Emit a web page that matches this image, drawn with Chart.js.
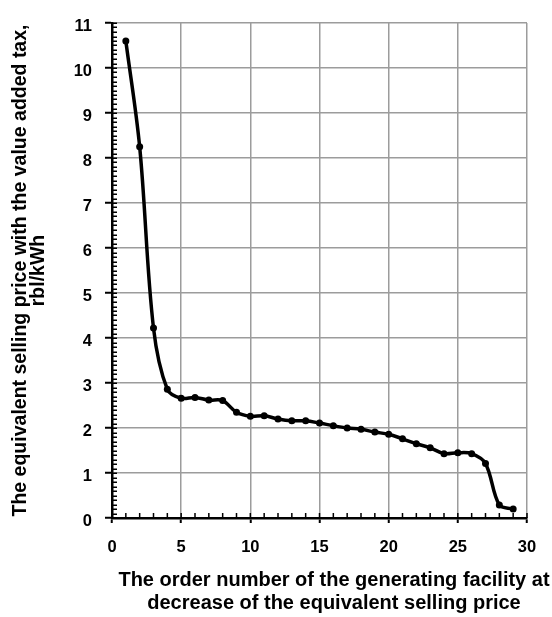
<!DOCTYPE html>
<html>
<head>
<meta charset="utf-8">
<script src="https://cdn.jsdelivr.net/npm/chart.js@4/dist/chart.umd.min.js"></script>
<style>
  html, body { margin: 0; padding: 0; background: #fff; }
  #wrap { width: 552px; height: 617px; }
</style>
</head>
<body>
<div id="wrap"><canvas id="priceChart" width="552" height="617"></canvas></div>
<script>
// Facility order numbers and equivalent selling price (with VAT), rbl/kWh
const facilityNo = [1, 2, 3, 4, 5, 6, 7, 8, 9, 10, 11, 12, 13, 14, 15,
                    16, 17, 18, 19, 20, 21, 22, 23, 24, 25, 26, 27, 28, 29];
const priceVat = [10.6, 8.25, 4.22, 2.86, 2.66, 2.68, 2.62, 2.61, 2.35, 2.26,
                  2.27, 2.20, 2.16, 2.16, 2.11, 2.05, 2.00, 1.97, 1.91, 1.86,
                  1.76, 1.65, 1.56, 1.43, 1.45, 1.43, 1.21, 0.29, 0.20];

const xTitle = ['The order number of the generating facility at',
                'decrease of the equivalent selling price'];
const yTitle = ['The equivalent selling price with the value added tax,',
                'rbl/kWh'];

const FONT = "'Liberation Sans', Arial, sans-serif";

Chart.defaults.font.family = FONT;
Chart.defaults.font.weight = 'bold';
Chart.defaults.color = '#000';

// Small inner ticks along both axes (every 0.1 on y, every 1 on x)
const minorTicks = {
    id: 'minorTicks',
    beforeDatasetsDraw(chart) {
        const ctx = chart.ctx;
        const xs = chart.scales.x;
        const ys = chart.scales.y;
        const area = chart.chartArea;
        ctx.save();
        ctx.strokeStyle = '#000';
        ctx.lineWidth = 1.5;
        ctx.beginPath();
        for (let i = 0; i <= 110; i++) {
            const py = Math.round(ys.getPixelForValue(i / 10)) + 0.25;
            ctx.moveTo(area.left, py);
            ctx.lineTo(area.left + 5, py);
        }
        for (let i = 1; i <= 30; i++) {
            const px = xs.getPixelForValue(i);
            ctx.moveTo(px, area.bottom);
            ctx.lineTo(px, area.bottom - 5);
        }
        ctx.stroke();
        ctx.restore();
    }
};

// Two-line x axis caption, centred between the plot's left edge and the canvas edge
const xCaption = {
    id: 'xCaption',
    afterDraw(chart) {
        const ctx = chart.ctx;
        const cx = (chart.chartArea.left + chart.width) / 2 + 2;
        ctx.save();
        ctx.font = 'bold 20px ' + FONT;
        ctx.fillStyle = '#000';
        ctx.textAlign = 'center';
        ctx.textBaseline = 'middle';
        ctx.fillText(xTitle[0], cx, 580);
        ctx.fillText(xTitle[1], cx, 603);
        ctx.restore();
    }
};

new Chart(document.getElementById('priceChart'), {
    type: 'line',
    data: {
        datasets: [{
            data: facilityNo.map((n, i) => ({ x: n, y: priceVat[i] })),
            borderColor: '#000',
            backgroundColor: '#000',
            borderWidth: 3.5,
            pointRadius: 3.5,
            pointBackgroundColor: '#000',
            pointBorderWidth: 0,
            tension: 0.35,
            fill: false
        }]
    },
    options: {
        responsive: false,
        animation: false,
        layout: { padding: { top: 23, right: 25, left: 0, bottom: 0 } },
        plugins: {
            legend: { display: false },
            tooltip: { enabled: false }
        },
        scales: {
            x: {
                type: 'linear',
                min: 0,
                max: 30,
                afterFit: (scale) => { scale.height = 99; },
                ticks: {
                    stepSize: 5,
                    padding: 15,
                    font: { size: 16.5, weight: 'bold' }
                },
                grid: {
                    color: '#9c9c9c',
                    lineWidth: 1.5,
                    tickLength: 5,
                    tickColor: '#000',
                    tickWidth: 2
                },
                border: { color: '#000', width: 2.5 }
            },
            y: {
                min: 0,
                max: 11,
                afterFit: (scale) => { scale.width = 112; },
                ticks: {
                    stepSize: 1,
                    padding: 13,
                    labelOffset: 3,
                    font: { size: 16.5, weight: 'bold' }
                },
                grid: {
                    color: '#9c9c9c',
                    lineWidth: 1.5,
                    tickLength: 7,
                    tickColor: '#000',
                    tickWidth: 2
                },
                border: { color: '#000', width: 2.5 },
                title: {
                    display: true,
                    text: yTitle,
                    font: { size: 19.5, weight: 'bold', lineHeight: '18px' },
                    padding: { top: 12, bottom: 0 }
                }
            }
        }
    },
    plugins: [minorTicks, xCaption]
});
</script>
</body>
</html>
